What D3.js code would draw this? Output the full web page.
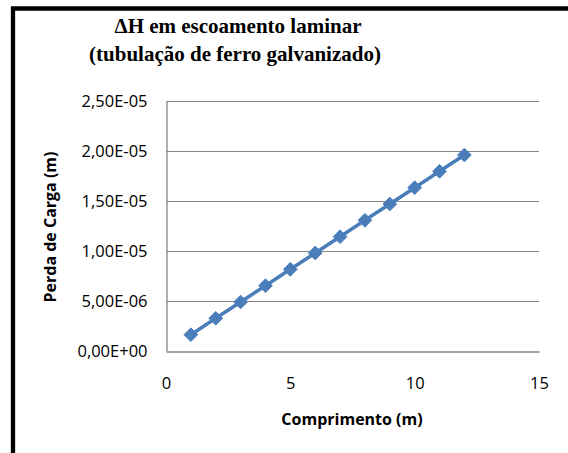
<!DOCTYPE html>
<html><head><meta charset="utf-8">
<script src="https://cdn.jsdelivr.net/npm/d3@7"></script>
<style>body{margin:0;background:#fff;} svg{display:block;}</style>
</head><body>
<svg id="c" width="568" height="453"></svg>
<script>
const comprimento = [1,2,3,4,5,6,7,8,9,10,11,12];
const perdaCarga = [1.63e-6,3.27e-6,4.90e-6,6.53e-6,8.17e-6,9.80e-6,11.43e-6,13.07e-6,14.70e-6,16.33e-6,17.97e-6,19.60e-6];
const yTicks = [0,5e-6,1e-5,1.5e-5,2e-5,2.5e-5];
const yTickLabels = ["0,00E+00","5,00E-06","1,00E-05","1,50E-05","2,00E-05","2,50E-05"];
const xTicks = [0,5,10,15];
const titleLines = ["\u0394H em escoamento laminar","(tubula\u00e7\u00e3o de ferro galvanizado)"];

const svg = d3.select("#c");
const L=166, R=539, T=101, B=351;
const x = d3.scaleLinear().domain([0,15]).range([L,R]);
const y = d3.scaleLinear().domain([0,2.5e-5]).range([B,T]);

// border
svg.append("path").attr("d","M13,460 L13,8.5 L580,8.5").attr("fill","none").attr("stroke","#000").attr("stroke-width",4.3);

// title
const tt = svg.append("text").attr("font-family","'Liberation Serif', serif").attr("font-weight","bold").attr("font-size",21).attr("text-anchor","middle").attr("fill","#000");
tt.append("tspan").attr("x",238).attr("y",33).text(titleLines[0]);
tt.append("tspan").attr("x",235).attr("y",61).text(titleLines[1]);

// gridlines
svg.append("g").selectAll("line").data(yTicks.slice(1)).join("line")
  .attr("x1",L).attr("x2",R).attr("y1",d=>Math.round(y(d))+0.5).attr("y2",d=>Math.round(y(d))+0.5)
  .attr("stroke","#868686").attr("stroke-width",1);

// axes
const yAxis = svg.append("g").attr("transform",`translate(${L+0.5},0)`)
  .call(d3.axisLeft(y).tickValues(yTicks).tickFormat((d,i)=>yTickLabels[i]).tickSize(0).tickPadding(19));
yAxis.select(".domain").attr("stroke","#868686").attr("stroke-width",1.3);
yAxis.selectAll("text").attr("font-family","'Open Sans', sans-serif").attr("font-size",16.5).attr("fill","#000");

const xAxis = svg.append("g").attr("transform",`translate(0,${B+0.5})`)
  .call(d3.axisBottom(x).tickValues(xTicks).tickSize(0).tickPadding(26));
xAxis.select(".domain").attr("stroke","#868686").attr("stroke-width",1.3);
xAxis.selectAll("text").attr("font-family","'Open Sans', sans-serif").attr("font-size",16.5).attr("fill","#000");

// axis titles
svg.append("text").attr("x",352).attr("y",425).attr("text-anchor","middle")
  .attr("font-family","'Open Sans', sans-serif").attr("font-weight","bold").attr("font-size",16).text("Comprimento (m)");
svg.append("text").attr("transform","translate(56,227) rotate(-90)").attr("text-anchor","middle")
  .attr("font-family","'Open Sans', sans-serif").attr("font-weight","bold").attr("font-size",16).text("Perda de Carga (m)");

// series
const data = comprimento.map((c,i)=>({c, v:perdaCarga[i]}));
svg.append("path").datum(data).attr("fill","none").attr("stroke","#4A7EBB").attr("stroke-width",3.5)
  .attr("stroke-linejoin","round")
  .attr("d", d3.line().x(d=>x(d.c)).y(d=>y(d.v)));
svg.append("g").selectAll("path").data(data).join("path")
  .attr("transform",d=>`translate(${x(d.c)},${y(d.v)})`)
  .attr("d", d3.symbol().type(d3.symbolDiamond2).size(120))
  .attr("fill","#4A7EBB").attr("stroke","#4A7EBB").attr("stroke-width",1);
</script>
</body></html>
